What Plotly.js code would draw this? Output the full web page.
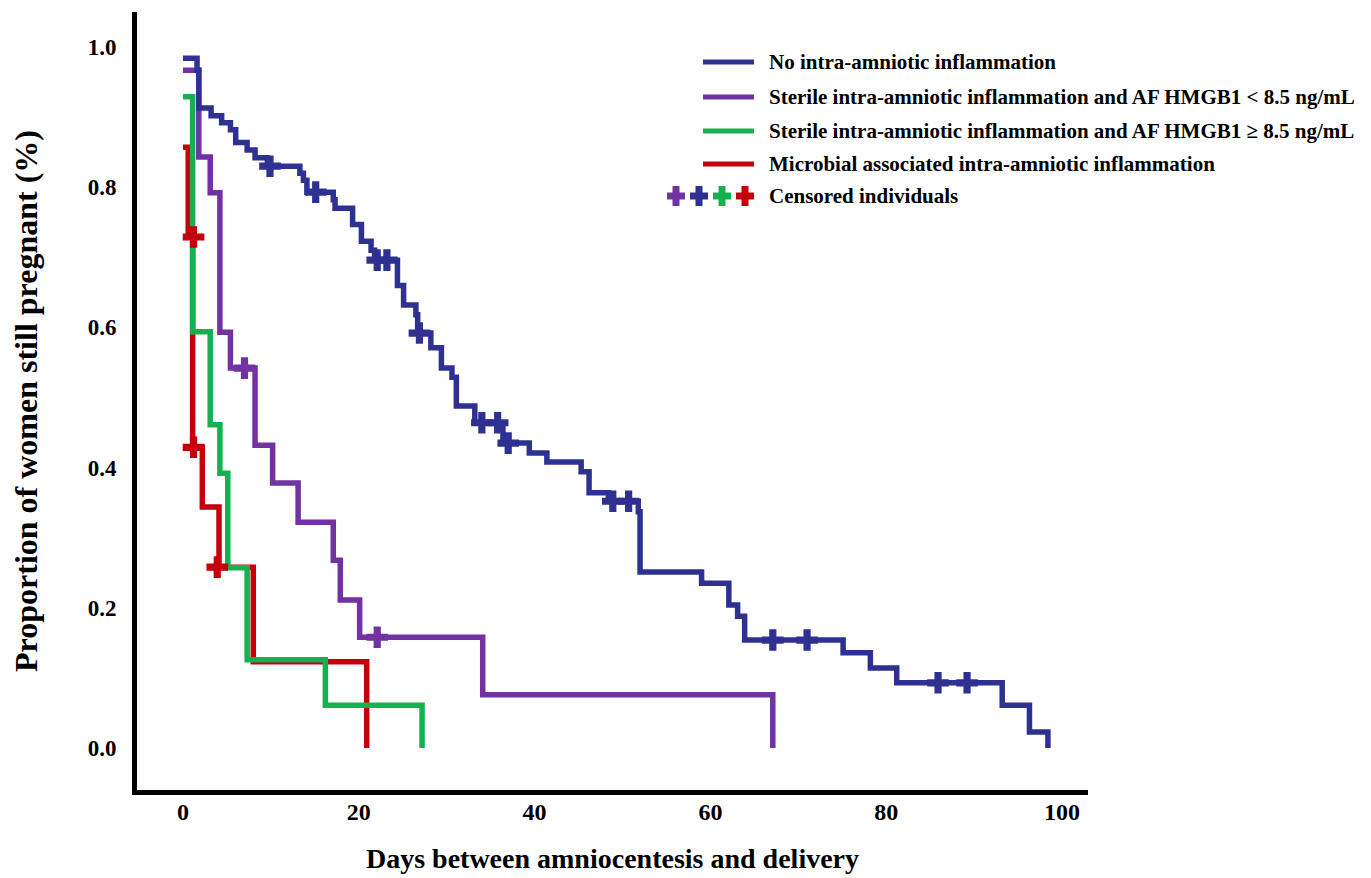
<!DOCTYPE html>
<html>
<head>
<meta charset="utf-8">
<script src="https://cdn.plot.ly/plotly-3.0.1.min.js"></script>
<style>
  html, body { margin: 0; padding: 0; background: #ffffff; }
  #chart { width: 1371px; height: 878px; }
</style>
</head>
<body>
<div id="chart"></div>
<script>
// ---------------- Data ----------------
const seriesNames = [
  "No intra-amniotic inflammation",
  "Sterile intra-amniotic inflammation and AF HMGB1 < 8.5 ng/mL",
  "Sterile intra-amniotic inflammation and AF HMGB1 \u2265 8.5 ng/mL",
  "Microbial associated intra-amniotic inflammation"
];
const censorLabel = "Censored individuals";

// Kaplan-Meier step curves: day of each change and survival level after it
const blueDays = [0, 1.6, 1.8, 3.2, 4.4, 5.4, 6.0, 7.3, 8.2, 9.6, 13.3, 13.7, 14.1, 17.1, 17.3, 19.3, 20.3, 21.4, 21.8,
  24.4, 25.1, 26.5, 26.7, 28.2, 29.4, 30.6, 31.1, 33.2, 36.4, 39.4, 41.4, 45.3, 46.2, 48.4, 51.8, 52.0,
  59.0, 62.1, 63.1, 63.9, 75.1, 78.2, 81.2, 93.2, 96.3, 98.4];
const blueSurv = [0.984, 0.967, 0.913, 0.902, 0.892, 0.882, 0.864, 0.853, 0.842, 0.830, 0.820, 0.810, 0.793, 0.782, 0.770, 0.747, 0.723, 0.710, 0.696,
  0.660, 0.632, 0.618, 0.592, 0.571, 0.542, 0.529, 0.488, 0.464, 0.435, 0.421, 0.408, 0.394, 0.364, 0.352, 0.337, 0.251,
  0.235, 0.204, 0.188, 0.154, 0.136, 0.114, 0.093, 0.061, 0.023, 0.0];
const blueCensorDays = [9.9, 15.1, 22.1, 23.2, 26.9, 34.0, 35.8, 37.0, 48.9, 50.7, 67.1, 71.0, 85.9, 89.2];
const blueCensorSurv = [0.830, 0.793, 0.696, 0.696, 0.592, 0.464, 0.464, 0.435, 0.352, 0.352, 0.154, 0.154, 0.093, 0.093];

const purpleDays = [0, 1.8, 3.1, 4.2, 5.4, 8.2, 10.2, 13.1, 17.1, 17.9, 20.1, 34.1, 67.1];
const purpleSurv = [0.967, 0.843, 0.792, 0.593, 0.542, 0.432, 0.378, 0.322, 0.268, 0.211, 0.158, 0.076, 0.0];
const purpleCensorDays = [7.0, 22.1];
const purpleCensorSurv = [0.542, 0.158];

const greenDays = [0, 1.1, 3.1, 4.2, 5.1, 7.3, 16.2, 27.2];
const greenSurv = [0.929, 0.594, 0.461, 0.392, 0.257, 0.126, 0.061, 0.0];

const redDays = [0, 0.6, 1.1, 2.2, 4.1, 8.0, 20.9];
const redSurv = [0.857, 0.729, 0.429, 0.344, 0.258, 0.123, 0.0];
const redCensorDays = [1.2, 1.2, 3.9];
const redCensorSurv = [0.729, 0.429, 0.258];

const xTickVals = [0, 20, 40, 60, 80, 100];
const yTickVals = [0, 0.2, 0.4, 0.6, 0.8, 1.0];
const yTickText = ["0.0", "0.2", "0.4", "0.6", "0.8", "1.0"];

const xTitle = "Days between amniocentesis and delivery";
const yTitle = "Proportion of women still pregnant (%)";

// ---------------- Styling ----------------
const colBlue = "#2E3192", colPurple = "#7232A2", colGreen = "#16B050", colRed = "#C3000C";
const serif = "Liberation Serif, Times New Roman, serif";
const W = 1371, H = 878;
const M = {l: 137, r: 283, t: 12, b: 88};

function stepTrace(xs, ys, color, name) {
  return {x: xs, y: ys, type: "scatter", mode: "lines", name: name,
          line: {shape: "hv", color: color, width: 5.5}, showlegend: false, hoverinfo: "x+y"};
}
function censorTrace(xs, ys, color) {
  return {x: xs, y: ys, type: "scatter", mode: "markers", name: censorLabel,
          marker: {symbol: "cross", size: 18, color: color, line: {width: 0}},
          showlegend: false, hoverinfo: "x+y"};
}

const traces = [
  stepTrace(redDays, redSurv, colRed, seriesNames[3]),
  stepTrace(purpleDays, purpleSurv, colPurple, seriesNames[1]),
  stepTrace(greenDays, greenSurv, colGreen, seriesNames[2]),
  stepTrace(blueDays, blueSurv, colBlue, seriesNames[0]),
  censorTrace(redCensorDays, redCensorSurv, colRed),
  censorTrace(purpleCensorDays, purpleCensorSurv, colPurple),
  censorTrace(blueCensorDays, blueCensorSurv, colBlue)
];

// ---------------- Custom legend (paper coordinates) ----------------
const pw = W - M.l - M.r, ph = H - M.t - M.b;
const px = v => (v - M.l) / pw;
const py = v => (H - M.b - v) / ph;

const legendRowsY = [62, 97, 131, 164];
const legendColors = [colBlue, colPurple, colGreen, colRed];
const shapes = [];
const annotations = [];
legendRowsY.forEach((ry, i) => {
  shapes.push({type: "line", xref: "paper", yref: "paper", x0: px(703), x1: px(754), y0: py(ry), y1: py(ry),
               line: {color: legendColors[i], width: 5}});
  annotations.push({xref: "paper", yref: "paper", x: px(767), y: py(ry), xanchor: "left", yanchor: "middle",
                    text: seriesNames[i], showarrow: false,
                    font: {family: serif, size: 21, color: "#000", weight: "bold"}});
});
const censorRowY = 196;
const crossX = [676, 699, 722, 745];
const crossCol = [colPurple, colBlue, colGreen, colRed];
crossX.forEach((cx, i) => {
  shapes.push({type: "rect", xref: "paper", yref: "paper", x0: px(cx - 9), x1: px(cx + 9),
               y0: py(censorRowY + 3.5), y1: py(censorRowY - 3.5), fillcolor: crossCol[i], line: {width: 0}});
  shapes.push({type: "rect", xref: "paper", yref: "paper", x0: px(cx - 3.5), x1: px(cx + 3.5),
               y0: py(censorRowY + 10), y1: py(censorRowY - 10), fillcolor: crossCol[i], line: {width: 0}});
});
annotations.push({xref: "paper", yref: "paper", x: px(767), y: py(censorRowY), xanchor: "left", yanchor: "middle",
                  text: censorLabel, showarrow: false,
                  font: {family: serif, size: 21, color: "#000", weight: "bold"}});

const layout = {
  width: W, height: H,
  margin: M,
  paper_bgcolor: "#ffffff", plot_bgcolor: "#ffffff",
  showlegend: false,
  xaxis: {
    range: [-5.23, 102.96], tickvals: xTickVals, ticks: "", showgrid: false, zeroline: false,
    showline: true, linecolor: "#000", linewidth: 5, ticklabelstandoff: -4,
    tickfont: {family: serif, size: 24, color: "#000", weight: "bold"},
    title: {text: xTitle, standoff: 26, font: {family: serif, size: 28, color: "#000", weight: "bold"}}
  },
  yaxis: {
    range: [-0.0599, 1.050], tickvals: yTickVals, ticktext: yTickText, ticks: "", showgrid: false, zeroline: false,
    showline: true, linecolor: "#000", linewidth: 5, ticklabelstandoff: 11,
    tickfont: {family: serif, size: 23, color: "#000", weight: "bold"},
    title: {text: yTitle, standoff: 42, font: {family: serif, size: 32, color: "#000", weight: "bold"}}
  },
  shapes: shapes,
  annotations: annotations
};

Plotly.newPlot("chart", traces, layout, {displayModeBar: false, staticPlot: true});
</script>
</body>
</html>
